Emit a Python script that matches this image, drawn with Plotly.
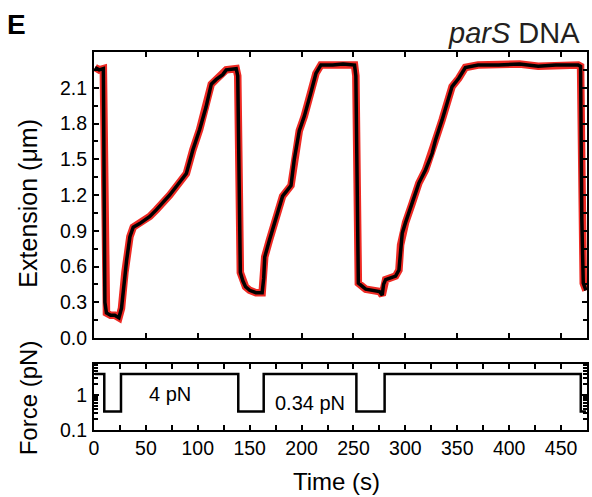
import plotly.graph_objects as go

# Extension trace (smoothed, black)
time_s = [1, 5, 9, 9.8, 10.5, 12, 16, 20, 24, 26.5, 29.8, 31.4, 34.6, 37.8, 44, 53.8, 60, 73, 89, 92, 95.3,
          101.8, 108, 113, 117.8, 124, 127.4, 137, 138.5, 141, 143.4, 146, 150, 156, 162, 163.5, 164.5,
          169, 175.4, 181.7, 189.8, 193, 197.8, 202.6, 209, 213.8, 218.6, 230, 240, 251, 252.3, 254.7,
          261.8, 270, 275, 277.7, 279, 281, 290.6, 293.8, 295.4, 297, 300.2, 306.6, 313, 319.4, 325.8,
          329, 335.4, 345, 351.4, 357.8, 370, 389.8, 410, 428, 445, 466.6, 468.8, 470, 471.4, 474]
extension_um = [2.27, 2.25, 2.26, 1.5, 0.3, 0.21, 0.19, 0.19, 0.17, 0.25, 0.55, 0.65, 0.85, 0.93, 0.96, 1.02,
                1.075, 1.2, 1.38, 1.49, 1.58, 1.75, 1.94, 2.13, 2.17, 2.21, 2.25, 2.26, 2.2, 0.55, 0.48,
                0.43, 0.40, 0.38, 0.38, 0.5, 0.68, 0.82, 1.02, 1.19, 1.28, 1.50, 1.74, 1.86, 2.06, 2.22,
                2.29, 2.29, 2.30, 2.29, 2.2, 0.46, 0.41, 0.40, 0.39, 0.36, 0.45, 0.49, 0.52, 0.57, 0.78,
                0.88, 0.97, 1.13, 1.30, 1.41, 1.55, 1.66, 1.83, 2.11, 2.18, 2.27, 2.29, 2.29, 2.30, 2.28,
                2.29, 2.29, 2.28, 1.0, 0.46, 0.40]

# Force protocol (step function)
force_t = [1, 9.9, 9.9, 26, 26, 139, 139, 163.5, 163.5, 252.8, 252.8, 280, 280, 469, 469, 474]
force_pN = [4, 4, 0.34, 0.34, 4, 4, 0.34, 0.34, 4, 4, 0.34, 0.34, 4, 4, 0.34, 0.34]

ext_ticks = [0.0, 0.3, 0.6, 0.9, 1.2, 1.5, 1.8, 2.1]
force_ticks = [0.1, 1]
force_ticktext = ["0.1", "1"]
force_minor = [0.2, 0.3, 0.4, 0.5, 0.6, 0.7, 0.8, 0.9, 2, 3, 4, 5, 6, 7]
time_ticks = [0, 50, 100, 150, 200, 250, 300, 350, 400, 450]

FONT = "Liberation Sans, Arial, sans-serif"
RED = "#ee2a24"

fig = go.Figure()
fig.add_trace(go.Scatter(x=time_s, y=extension_um, mode="lines",
                         line=dict(color=RED, width=7.5), xaxis="x", yaxis="y", hoverinfo="skip"))
fig.add_trace(go.Scatter(x=time_s, y=extension_um, mode="lines",
                         line=dict(color="black", width=3.5), xaxis="x", yaxis="y"))
fig.add_trace(go.Scatter(x=force_t, y=force_pN, mode="lines",
                         line=dict(color="black", width=2.5), xaxis="x2", yaxis="y2"))

axis_common = dict(showline=True, linewidth=2, linecolor="black", mirror="ticks",
                   ticks="inside", ticklen=5, tickwidth=2, tickcolor="black",
                   showgrid=False, zeroline=False,
                   tickfont=dict(family=FONT, size=19.5, color="black"))

fig.update_layout(
    width=592, height=497,
    margin=dict(l=94, r=3, t=52, b=67),
    paper_bgcolor="white", plot_bgcolor="white",
    showlegend=False,
    font=dict(family=FONT, color="black"),
    xaxis=dict(domain=[0, 1], anchor="y", range=[0, 475], tickvals=time_ticks,
               showticklabels=False, **axis_common),
    yaxis=dict(domain=[0.2434, 1], anchor="x", range=[0, 2.4], tickvals=ext_ticks,
               tickformat=".1f", ticklabelstandoff=1,
               minor=dict(dtick=0.15, tick0=0, ticks="inside", ticklen=4, tickwidth=2, tickcolor="black"),
               **axis_common),
    xaxis2=dict(domain=[0, 1], anchor="y2", range=[0, 475], tickvals=time_ticks,
                minor=dict(dtick=25, tick0=0, ticks="inside", ticklen=5, tickwidth=2, tickcolor="black"),
                **axis_common),
    yaxis2=dict(domain=[0, 0.1746], anchor="x2", type="log", range=[-1, 0.886],
                tickvals=force_ticks, ticktext=force_ticktext, ticklabelstandoff=1,
                minor=dict(tickvals=force_minor, ticks="inside", ticklen=4, tickwidth=1.5, tickcolor="black"),
                **axis_common),
)

annotations = [
    dict(text="<b>E</b>", x=-0.181, y=1.074, xref="paper", yref="paper", xanchor="left", yanchor="middle",
         showarrow=False, font=dict(family=FONT, size=28, color="black")),
    dict(text="<i>parS</i> DNA", x=0.99, y=1.05, xref="paper", yref="paper", xanchor="right", yanchor="middle",
         showarrow=False, font=dict(family=FONT, size=29, color="#231f20")),
    dict(text="Extension (\u03bcm)", x=-0.133, y=0.60, xref="paper", yref="paper", textangle=-90,
         xanchor="center", yanchor="middle", showarrow=False, font=dict(family=FONT, size=25, color="black")),
    dict(text="Force (pN)", x=-0.133, y=0.085, xref="paper", yref="paper", textangle=-90,
         xanchor="center", yanchor="middle", showarrow=False, font=dict(family=FONT, size=24, color="black")),
    dict(text="Time (s)", x=0.491, y=-0.135, xref="paper", yref="paper",
         xanchor="center", yanchor="middle", showarrow=False, font=dict(family=FONT, size=24, color="black")),
    dict(text="4 pN", x=73, y=0.03, xref="x2", yref="y2", xanchor="center", yanchor="middle",
         showarrow=False, font=dict(family=FONT, size=20, color="black")),
    dict(text="0.34 pN", x=208.5, y=-0.23, xref="x2", yref="y2", xanchor="center", yanchor="middle",
         showarrow=False, font=dict(family=FONT, size=20, color="black")),
]
fig.update_layout(annotations=annotations)

fig.write_html("out.html")
